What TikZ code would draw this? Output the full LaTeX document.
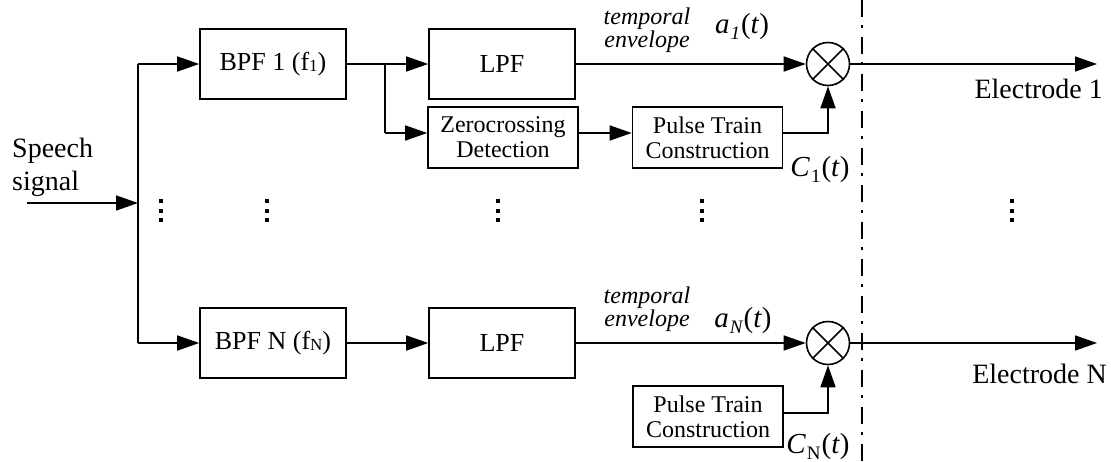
\documentclass[tikz,border=0pt]{standalone}
\usepackage{fontspec}
\setmainfont{Liberation Serif}
\usetikzlibrary{arrows.meta}
\newcommand{\smallsub}[1]{\raisebox{-1pt}{\fontsize{17}{17}\selectfont #1}}
\newcommand{\isub}[1]{\kern1pt\raisebox{-6pt}{\fontsize{19}{19}\selectfont\itshape #1}\kern1pt}
\newcommand{\rsub}[1]{\kern1pt\raisebox{-6pt}{\fontsize{19}{19}\selectfont #1}\kern1pt}
\tikzset{
  x=1pt, y=-1pt,
  blk/.style={draw, line width=1.6pt, minimum width=146pt, minimum height=70pt, inner sep=0pt, align=center, font=\fontsize{26}{26}\selectfont},
  blk2/.style={draw, line width=1.6pt, minimum width=150pt, minimum height=61pt, inner sep=0pt, align=center, font=\fontsize{24}{25}\selectfont},
  ln/.style={line width=1.6pt},
  arr/.style={line width=1.6pt, -{Triangle[length=22pt,width=15pt]}},
  mult/.style={draw, circle, line width=1.6pt, minimum size=43pt, inner sep=0pt},
  lbl/.style={inner sep=0pt, font=\fontsize{28}{33}\selectfont},
  mth/.style={inner sep=0pt, font=\fontsize{29}{29}\selectfont},
  env/.style={inner sep=0pt, align=center, font=\fontsize{24}{21}\selectfont\itshape},
}
\begin{document}
\begin{tikzpicture}
\useasboundingbox (0,0) rectangle (1111,461);
% blocks
\node[blk] (bpf1) at (273,64) {BPF 1 (f\smallsub{1})};
\node[blk] (lpf1) at (502,64) {LPF};
\node[blk2] (zero1) at (503,137.5) {Zerocrossing\\Detection};
\node[blk2] (pulse1) at (707.5,137.5) {Pulse Train\\Construction};
\node[mult] (m1) at (828,64) {};
\draw[line width=1.6pt] (m1.45) -- (m1.225) (m1.135) -- (m1.315);

\node[blk] (bpfN) at (273,343) {BPF N (f\smallsub{N})};
\node[blk] (lpfN) at (502,343) {LPF};
\node[blk2] (pulseN) at (708,416.5) {Pulse Train\\Construction};
\node[mult] (mN) at (828,343) {};
\draw[line width=1.6pt] (mN.45) -- (mN.225) (mN.135) -- (mN.315);

% coordinates
\coordinate (in) at (27,203);
\coordinate (busin) at (138,203);
\coordinate (bt) at (138,64);
\coordinate (bb) at (138,343);
\coordinate (br) at (385,64);
\coordinate (brl) at (385,133);
\coordinate (yN) at (0,413);
\coordinate (out1) at (1097,64);
\coordinate (outN) at (1097,343);

% connectors
\draw[arr] (in) -- (busin);
\draw[ln] (bt) -- (bb);
\draw[arr] (bt) -- (bpf1.west);
\draw[arr] (bb) -- (bpfN.west);
\draw[arr] (bpf1.east) -- (lpf1.west);
\draw[ln] (br) -- (brl);
\draw[arr] (brl) -- (zero1.west |- brl);
\draw[arr] (zero1.east |- brl) -- (pulse1.west |- brl);
\draw[arr] (pulse1.east |- brl) -| (m1.south);
\draw[arr] (lpf1.east) -- (m1.west);
\draw[arr] (m1.east) -- (out1);

\draw[arr] (bpfN.east) -- (lpfN.west);
\draw[arr] (lpfN.east) -- (mN.west);
\draw[arr] (pulseN.east |- yN) -| (mN.south);
\draw[arr] (mN.east) -- (outN);

% dash-dot separator
\draw[line width=1.3pt, dash pattern=on 17pt off 8pt on 3pt off 9pt] (862,0) -- (862,461);

% labels
\node[lbl, align=left, anchor=west] (speech) at (12,167) {Speech\\signal};
\node[env] (te1) at (647,30) {temporal\\envelope};
\node[env] (teN) at (647,309) {temporal\\envelope};
\node[mth, anchor=base] (a1) at (742,33) {\textit{a}\isub{1}(\textit{t})};
\node[mth, anchor=base] (aN) at (743,327) {\textit{a}\isub{N}(\textit{t})};
\node[mth, anchor=base] (c1) at (820,176) {\textit{C}\rsub{1}(\textit{t})};
\node[mth, anchor=base] (cN) at (818,453) {\textit{C}\rsub{N}(\textit{t})};
\node[lbl, anchor=base east] (e1) at (1103,98) {Electrode 1};
\node[lbl, anchor=base east] (eN) at (1107,383) {Electrode N};

% vertical ellipsis dots
\foreach \x in {161,267,498,702,1012}{
  \foreach \y in {201,211,220}{
    \fill (\x-2,\y-2) rectangle (\x+2,\y+2);
  }
}
\end{tikzpicture}
\end{document}
